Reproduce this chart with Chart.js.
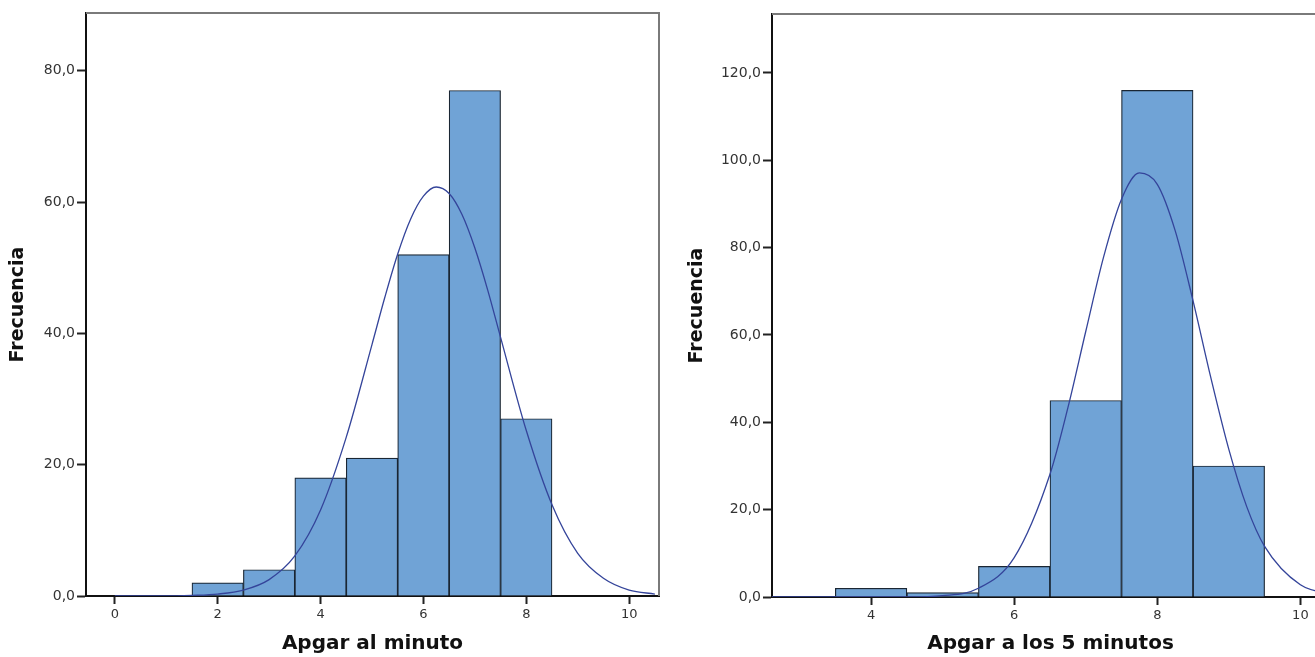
<!DOCTYPE html>
<html>
<head>
<meta charset="utf-8">
<script src="https://cdn.jsdelivr.net/npm/chart.js@4.4.1/dist/chart.umd.min.js"></script>
<style>
  body { margin:0; background:#fff; overflow:hidden; width:1315px; height:657px; position:relative; }
  #c1 { position:absolute; left:0; top:0; }
  #c2 { position:absolute; left:665px; top:0; }
</style>
</head>
<body>
<canvas id="c1" width="665" height="657"></canvas>
<canvas id="c2" width="670" height="657"></canvas>
<script>
// Apgar al minuto
const apgar1Bins = [2, 3, 4, 5, 6, 7, 8];
const apgar1Freq = [2, 4, 18, 21, 52, 77, 27];
const apgar1CurveX = [0, 0.5, 1, 1.5, 2, 2.5, 3, 3.5, 4, 4.5, 5, 5.25, 5.5, 5.75, 6, 6.25, 6.5, 6.75, 7, 7.25, 7.5, 8, 8.5, 9, 9.5, 10, 10.5];
const apgar1CurveY = [0, 0, 0, 0.1, 0.3, 0.9, 2.5, 6.1, 13.1, 24.2, 38.3, 45.5, 52.1, 57.4, 60.9, 62.3, 61.3, 58.1, 53.0, 46.6, 39.4, 25.2, 13.9, 6.5, 2.7, 0.9, 0.3];
const apgar1XTicks = [0, 2, 4, 6, 8, 10];
const apgar1YTicks = [0, 20, 40, 60, 80];

// Apgar a los 5 minutos
const apgar5Bins = [4, 5, 6, 7, 8, 9];
const apgar5Freq = [2, 1, 7, 45, 116, 30];
const apgar5CurveX = [2.6, 3, 3.5, 4, 4.5, 5, 5.5, 6, 6.5, 6.75, 7, 7.25, 7.5, 7.75, 8, 8.25, 8.5, 8.75, 9, 9.25, 9.5, 10, 10.5];
const apgar5CurveY = [0, 0, 0, 0, 0, 0.3, 2.0, 9.0, 28.1, 43.3, 60.8, 77.9, 91.1, 97.1, 94.5, 83.9, 67.8, 50.1, 33.8, 20.7, 11.6, 2.8, 0.5];
const apgar5XTicks = [4, 6, 8, 10];
const apgar5YTicks = [0, 20, 40, 60, 80, 100, 120];

const fmtY = v => v.toFixed(1).replace('.', ',');

// grey frame on top / right of plot area
const framePlugin = {
  id: 'frame',
  afterDatasetsDraw(chart) {
    const { ctx, chartArea: a } = chart;
    ctx.save();
    ctx.strokeStyle = '#7a7a7a';
    ctx.lineWidth = 2;
    ctx.beginPath();
    ctx.moveTo(a.left, a.top);
    ctx.lineTo(a.right, a.top);
    ctx.lineTo(a.right, a.bottom);
    ctx.stroke();
    ctx.restore();
  }
};

function makeHist(id, o) {
  const ctx = document.getElementById(id).getContext('2d');
  return new Chart(ctx, {
    type: 'bar',
    data: {
      datasets: [
        {
          type: 'line',
          data: o.curveX.map((x, i) => ({ x, y: o.curveY[i] })),
          borderColor: '#34449a',
          borderWidth: 1.3,
          pointRadius: 0,
          fill: false,
          cubicInterpolationMode: 'monotone',
          order: 1
        },
        {
          data: o.bins.map((x, i) => ({ x, y: o.freq[i] })),
          backgroundColor: '#70a3d6',
          borderColor: '#1a2633',
          borderWidth: 1.2,
          barPercentage: 1,
          categoryPercentage: 1,
          order: 2
        }
      ]
    },
    options: {
      responsive: false,
      animation: false,
      layout: { padding: { top: o.padTop, right: 6, left: 0, bottom: 0 } },
      plugins: { legend: { display: false }, tooltip: { enabled: false } },
      scales: {
        x: {
          type: 'linear', min: o.xMin, max: o.xMax, offset: false,
          afterBuildTicks: s => { s.ticks = o.xTicks.map(v => ({ value: v })); },
          afterFit: s => { s.height = o.xAxisH; },
          border: { display: true, color: '#111', width: 2 },
          grid: { drawOnChartArea: false, drawTicks: true, tickLength: 8, tickColor: '#222', tickWidth: 2, offset: false },
          ticks: { color: '#333', font: { family: 'DejaVu Sans', size: 13 }, padding: 3, maxRotation: 0, autoSkip: false, callback: v => String(v) },
          title: { display: true, text: o.xTitle, color: '#111', font: { family: 'DejaVu Sans', size: 20, weight: 'bold' }, padding: { top: 0, bottom: 1 } }
        },
        y: {
          min: 0, max: o.yMax,
          afterBuildTicks: s => { s.ticks = o.yTicks.map(v => ({ value: v })); },
          afterFit: s => { s.width = o.yAxisW; },
          border: { display: true, color: '#111', width: 2 },
          grid: { drawOnChartArea: false, drawTicks: true, tickLength: 9, tickColor: '#222', tickWidth: 2 },
          ticks: { color: '#333', font: { family: 'DejaVu Sans', size: 14 }, padding: 2, callback: v => fmtY(v) },
          title: { display: true, text: 'Frecuencia', color: '#111', font: { family: 'DejaVu Sans', size: 19, weight: 'bold' }, padding: { top: o.yTitlePad, bottom: 0 } }
        }
      }
    },
    plugins: [framePlugin]
  });
}

makeHist('c1', {
  bins: apgar1Bins, freq: apgar1Freq, curveX: apgar1CurveX, curveY: apgar1CurveY,
  xTicks: apgar1XTicks, yTicks: apgar1YTicks,
  xMin: -0.56, xMax: 10.58, yMax: 88.8,
  padTop: 13, xAxisH: 61, yAxisW: 86, yTitlePad: 7,
  xTitle: 'Apgar al minuto'
});

makeHist('c2', {
  bins: apgar5Bins, freq: apgar5Freq, curveX: apgar5CurveX, curveY: apgar5CurveY,
  xTicks: apgar5XTicks, yTicks: apgar5YTicks,
  xMin: 2.615, xMax: 10.4, yMax: 133.5,
  padTop: 14, xAxisH: 60, yAxisW: 107, yTitlePad: 21,
  xTitle: 'Apgar a los 5 minutos'
});
</script>
</body>
</html>
